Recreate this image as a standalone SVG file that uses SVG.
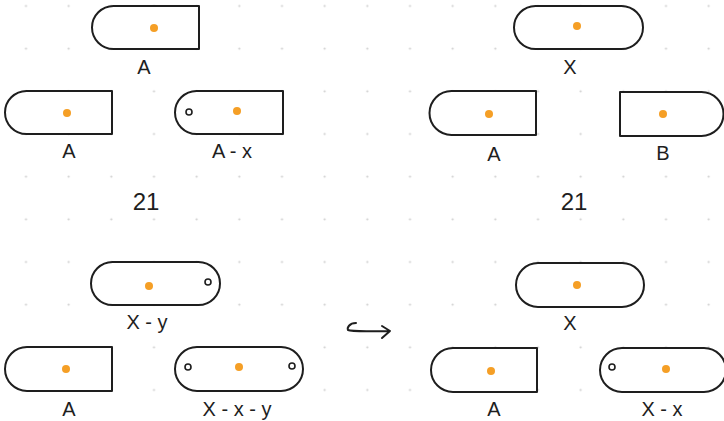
<svg xmlns="http://www.w3.org/2000/svg" width="724" height="421" viewBox="0 0 724 421">
<defs>
<pattern id="grid" x="4.667" y="-15.333" width="42.667" height="42.667" patternUnits="userSpaceOnUse">
<circle cx="21.333" cy="21.333" r="1.1" fill="#cfcfcf"/>
</pattern>
<style>
.sh{fill:#fff;stroke:#1e1e1e;stroke-width:2;stroke-linejoin:round}
.dot{fill:#f59f26}
.hole{fill:none;stroke:#1e1e1e;stroke-width:1.6}
.lbl{font-family:"Liberation Sans","DejaVu Sans",sans-serif;font-size:20px;fill:#1e1e1e;text-anchor:middle}
.iso{font-family:"Liberation Sans","DejaVu Sans",sans-serif;font-size:24px;fill:#1e1e1e;text-anchor:middle}
</style>
</defs>
<rect width="724" height="421" fill="#fff"/>
<rect width="724" height="421" fill="url(#grid)"/>

<g id="tl-top-A">
<path class="sh" d="M199,6 H113.5 A21.5,21.5 0 0 0 113.5,49 H199 Z"/>
<circle class="dot" cx="154" cy="28" r="4"/>
<text class="lbl" x="144" y="74">A</text>
</g>
<g id="tl-left-A">
<path class="sh" d="M112,91 H26.5 A21.5,21.5 0 0 0 26.5,134 H112 Z"/>
<circle class="dot" cx="67" cy="113" r="4"/>
<text class="lbl" x="69" y="158">A</text>
</g>
<g id="tl-right-Ax">
<path class="sh" d="M283,91 H196.5 A21.5,21.5 0 0 0 196.5,134 H283 Z"/>
<circle class="hole" cx="189" cy="112" r="3"/>
<circle class="dot" cx="237" cy="111" r="4"/>
<text class="lbl" x="232" y="158">A - x</text>
</g>
<g id="tl-iso">
<text class="iso" x="146" y="210">21</text>
</g>

<g id="tr-top-X">
<rect class="sh" x="514" y="6" width="129" height="43" rx="21.5"/>
<circle class="dot" cx="577" cy="26" r="4"/>
<text class="lbl" x="570" y="74">X</text>
</g>
<g id="tr-left-A">
<path class="sh" d="M536,91 H451.5 A22,22 0 0 0 451.5,135 H536 Z"/>
<circle class="dot" cx="489" cy="114" r="4"/>
<text class="lbl" x="494" y="161">A</text>
</g>
<g id="tr-right-B">
<path class="sh" d="M620,92 H701.5 A22,22 0 0 1 701.5,136 H620 Z"/>
<circle class="dot" cx="663" cy="114" r="4"/>
<text class="lbl" x="663" y="160">B</text>
</g>
<g id="tr-iso">
<text class="iso" x="574" y="210">21</text>
</g>

<g id="bl-top-Xy">
<rect class="sh" x="91" y="262" width="129" height="43" rx="21.5"/>
<circle class="hole" cx="208" cy="282" r="3"/>
<circle class="dot" cx="149" cy="286" r="4"/>
<text class="lbl" x="147" y="329">X - y</text>
</g>
<g id="bl-left-A">
<path class="sh" d="M112,347 H27 A22,22 0 0 0 27,391 H112 Z"/>
<circle class="dot" cx="66" cy="369" r="4"/>
<text class="lbl" x="69" y="416">A</text>
</g>
<g id="bl-right-Xxy">
<rect class="sh" x="175" y="347" width="128" height="44" rx="22"/>
<circle class="hole" cx="188" cy="367" r="3"/>
<circle class="hole" cx="292" cy="366" r="3"/>
<circle class="dot" cx="239" cy="367" r="4"/>
<text class="lbl" x="237" y="416">X - x - y</text>
</g>

<g id="connectors">
<path d="M356,323 C349,323 347,328 348,330 C352,332 370,331 390,331 M382,326 L390,331 L382,338" fill="none" stroke="#1e1e1e" stroke-width="2" stroke-linecap="round" stroke-linejoin="round"/>
</g>

<g id="br-top-X">
<rect class="sh" x="516" y="263" width="128" height="44" rx="22"/>
<circle class="dot" cx="577" cy="285" r="4"/>
<text class="lbl" x="570" y="330">X</text>
</g>
<g id="br-left-A">
<path class="sh" d="M537,348 H453 A22,22 0 0 0 453,392 H537 Z"/>
<circle class="dot" cx="491" cy="371" r="4"/>
<text class="lbl" x="494" y="416">A</text>
</g>
<g id="br-right-Xx">
<rect class="sh" x="600" y="348" width="126" height="44" rx="22"/>
<circle class="hole" cx="612" cy="367" r="3"/>
<circle class="dot" cx="666" cy="369" r="4"/>
<text class="lbl" x="662" y="416">X - x</text>
</g>
</svg>
